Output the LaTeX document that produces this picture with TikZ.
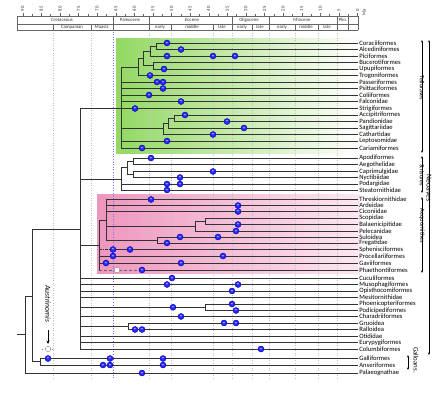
\documentclass[tikz,border=0pt]{standalone}
\usepackage{fontspec}
\setmainfont{Carlito}
\usetikzlibrary{arrows.meta}
\definecolor{grn}{RGB}{146,216,98}
\definecolor{pnk}{RGB}{238,150,190}
\definecolor{pnkr}{RGB}{252,232,242}
\definecolor{fosblue}{RGB}{40,40,255}
\begin{document}
\begin{tikzpicture}[x=1pt,y=-1pt,
  br/.style={draw=black!80, line width=0.95pt},
  tip/.style={anchor=west, inner xsep=1.2pt, inner ysep=0pt, font=\fontsize{6.6}{7}\selectfont},
  fos/.style={circle, draw=blue!60!black, fill=fosblue, inner sep=0pt, minimum size=6pt, line width=0.4pt,
    font=\fontsize{4.5}{4}\selectfont\bfseries, text=white!85!blue},
  ghost/.style={circle, draw=black!45, fill=white, inner sep=0pt, minimum size=5.5pt, line width=0.4pt},
  gridl/.style={draw=black!25, dotted, line width=0.5pt},
  ax/.style={draw=black!60, line width=0.4pt},
  axt/.style={font=\fontsize{4.8}{5}\selectfont, inner sep=0pt, text=black!80},
  clade/.style={font=\fontsize{6.2}{7}\selectfont, rotate=-90, inner sep=0.5pt},
  brk/.style={draw=black, line width=0.5pt, -{Stealth[length=2.5pt,width=2pt]}},
]
\useasboundingbox (0,0) rectangle (444,397);

% clade boxes
\shade[left color=grn, right color=white] (116,38) rectangle (360,153);
\shade[left color=pnk, right color=pnkr] (97,194) rectangle (360,273);

% grid
\foreach \x in {53,91,149,171,213,232,252,269,295,318,337}
  \draw[gridl] (\x,30) -- (\x,380);
\draw[dotted, draw=blue!55, line width=0.6pt] (113,16) -- (113,380);

% axis
\draw[ax] (17,16) -- (358,16);
\draw[ax] (17,24) -- (358,24);
\draw[ax] (17,30) -- (358,30);
\foreach \x in {17,113,149,232,269,337,348,358} \draw[ax] (\x,16) -- (\x,30);
\foreach \x in {53,91,171,213,252,295,318} \draw[ax] (\x,24) -- (\x,30);
\foreach \v in {0,5,...,90}{
  \pgfmathsetmacro\xx{357.5-3.72*\v}
  \draw[ax] (\xx,16) -- (\xx,12.5);
  \node[axt, rotate=90, anchor=west] (tl\v) at (\xx,11.5) {\v};
}
\foreach \v in {2.5,7.5,...,87.5}{
  \pgfmathsetmacro\xx{357.5-3.72*\v}
  \draw[ax] (\xx,16) -- (\xx,14.2);
}
\node[axt, rotate=90, anchor=west] (ma) at (364,16) {Ma};
\node[axt] (p1) at (62,20.2) {Cretaceous};
\node[axt] (p2) at (130,20.2) {Paleocene};
\node[axt] (p3) at (192,20.2) {Eocene};
\node[axt] (p4) at (249,20.2) {Oligocene};
\node[axt] (p5) at (302,20.2) {Miocene};
\node[axt] (p6) at (343,20.2) {Plio.};
\node[axt] (s1) at (72,27.2) {Campanian};
\node[axt] (s2) at (102,27.2) {Maastr.};
\node[axt] (s3) at (160,27.2) {early};
\node[axt] (s4) at (192,27.2) {middle};
\node[axt] (s5) at (222,27.2) {late};
\node[axt] (s6) at (242,27.2) {early};
\node[axt] (s7) at (260,27.2) {late};
\node[axt] (s8) at (282,27.2) {early};
\node[axt] (s9) at (306,27.2) {middle};
\node[axt] (s10) at (327,27.2) {late};

% tips
\foreach \n/\y/\t in {
 cor/43/Coraciiformes, alc/49.5/Alcediniformes, pic/56/Piciformes, buc/62.5/Bucerotiformes,
 upu/69/Upupiformes, tro/75.5/Trogoniformes, pas/82/Passeriformes, psi/88.5/Psittaciformes,
 col/95/Coliiformes, fal/101.5/Falconidae, str/108.5/Strigiformes, acc/115/Accipitriformes,
 pan/121.5/Pandionidae, sag/128/Sagittariidae, cat/134.5/Cathartidae, lep/141/Leptosomidae,
 car/148/Cariamiformes,
 apo/158/Apodiformes, aeg/164.5/Aegothelidae, cap/171.5/Caprimulgidae, nyc/177.5/Nyctibiidae,
 pod/184/Podargidae, ste/190/Steatornithidae,
 thr/199.5/Threskiornithidae, ard/205.5/Ardeidae, cic/211.5/Ciconiidae, sco/218/Scopidae,
 bal/224.5/Balaenicipitidae, pel/231/Pelecanidae, sul/237/Suloidea, fre/243/Fregatidae,
 sph/249.5/Sphenisciformes, pro/256/Procellariiformes, gav/263/Gaviiformes, pha/270/Phaethontiformes,
 cuc/278/Cuculiformes, mus/284.5/Musophagiformes, opi/291/Opisthocomiformes, mes/297.5/Mesitornithidae,
 pho/304/Phoenicopteriformes, pdc/310.5/Podicipediformes, cha/316.5/Charadriiformes,
 gru/323/Gruoidea, ral/329.5/Ralloidea, oti/336/Otididae, eur/342.5/Eurypygiformes,
 clb/349/Columbiformes, gal/358.5/Galliformes, ans/365/Anseriformes, pal/373/Palaeognathae}
 \node[tip] (\n) at (358,\y) {\t};

% internal nodes
\coordinate (T1) at (156,46.25);
\coordinate (T2) at (150,51.1);
\coordinate (T3) at (153,65.75);
\coordinate (T4) at (143,58.4);
\coordinate (T5) at (138,67);
\coordinate (A1) at (174,118.25);
\coordinate (A2) at (168,123.1);
\coordinate (A3) at (163,128.8);
\coordinate (TEL) at (121,108.5);
\coordinate (S1) at (133,161.25);
\coordinate (S2) at (133,174.5);
\coordinate (S3) at (127,167.9);
\coordinate (STR) at (121,179);
\coordinate (P1) at (205,221.25);
\coordinate (P2) at (195,226.1);
\coordinate (P3) at (157,240);
\coordinate (AQ1) at (106,220);
\coordinate (AQ) at (99,245);
\coordinate (MIR) at (205,307.25);
\coordinate (GRU) at (128,326.25);
\coordinate (NEO) at (80,229);
\coordinate (GAL) at (40,361.75);
\coordinate (NEOG) at (32,296);
\coordinate (ROOT) at (25,334.5);
\coordinate (rootstem) at (17,334.5);
\coordinate (sphg) at (110,249.5);
\coordinate (phag) at (139,270);

% Telluraves
\draw[br] (T1) |- (cor.west);  \draw[br] (T1) |- (alc.west);
\draw[br] (T2) |- (T1);        \draw[br] (T2) |- (pic.west);
\draw[br] (T3) |- (buc.west);  \draw[br] (T3) |- (upu.west);
\draw[br] (T4) |- (T2);        \draw[br] (T4) |- (T3);
\draw[br] (T5) |- (T4);        \draw[br] (T5) |- (tro.west);
\draw[br] (A1) |- (acc.west);  \draw[br] (A1) |- (pan.west);
\draw[br] (A2) |- (A1);        \draw[br] (A2) |- (sag.west);
\draw[br] (A3) |- (A2);        \draw[br] (A3) |- (cat.west);
\foreach \c in {T5,A3} \draw[br] (TEL) |- (\c);
\foreach \c in {pas,psi,col,fal,str,lep,car} \draw[br] (TEL) |- (\c.west);
% Strisores
\draw[br] (S1) |- (apo.west);  \draw[br] (S1) |- (aeg.west);
\draw[br] (S2) |- (cap.west);  \draw[br] (S2) |- (nyc.west);
\draw[br] (S3) |- (S1);        \draw[br] (S3) |- (S2);
\draw[br] (STR) |- (S3);
\draw[br] (STR) |- (pod.west); \draw[br] (STR) |- (ste.west);
% Aequornithes
\draw[br] (P1) |- (sco.west);  \draw[br] (P1) |- (bal.west);
\draw[br] (P2) |- (P1);        \draw[br] (P2) |- (pel.west);
\draw[br] (P3) |- (sul.west);  \draw[br] (P3) |- (fre.west);
\foreach \c in {thr,ard,cic} \draw[br] (AQ1) |- (\c.west);
\draw[br] (AQ1) |- (P2);       \draw[br] (AQ1) |- (P3);
\draw[br] (AQ) |- (AQ1);
\draw[br] (AQ |- AQ1) -- (AQ |- pha.west);
\draw[br] (AQ) |- (pro.west);  \draw[br] (AQ) |- (gav.west);
\draw[br, densely dash dot] (AQ |- sph.west) -- (sphg);
\draw[br] (sphg) -- (sph.west);
\draw[br, densely dashed, draw=black!60] (AQ |- pha.west) -- (phag);
\draw[br] (phag) -- (pha.west);
% rest of Neoaves
\draw[br] (MIR) |- (pho.west); \draw[br] (MIR) |- (pdc.west);
\draw[br] (GRU) |- (gru.west); \draw[br] (GRU) |- (ral.west);
\foreach \c in {TEL,STR,AQ,MIR,GRU} \draw[br] (NEO) |- (\c);
\foreach \c in {cuc,mus,opi,mes,cha,oti,eur,clb} \draw[br] (NEO) |- (\c.west);
% base
\draw[br] (GAL) |- (gal.west); \draw[br] (GAL) |- (ans.west);
\draw[br] (NEOG) |- (NEO);     \draw[br] (NEOG) |- (GAL);
\draw[br] (ROOT) |- (NEOG);    \draw[br] (ROOT) |- (pal.west);
\draw[br] (rootstem) -- (ROOT);

% fossil calibrations
\foreach \x/\y [count=\i] in {
 167/43, 181/49.5, 167/56, 213/56, 235/56, 164/69, 150/75.5, 157/82, 163/82, 163/88.5,
 149/95, 181/101.5, 135/108.5, 185/115, 227/121.5, 244/128, 213/134.5, 167/141, 142/148,
 151/158, 213/171.5, 180/177.5, 167/184, 180/184, 167/190,
 151/199.5, 238/205.5, 238/211.5, 238/224.5, 236/231, 180/237, 218/237, 167/243,
 113/249.5, 130/249.5, 113/256, 223/256, 106/263, 181/263, 142/270,
 172/278, 238/284.5, 167/284.5, 232/291, 173/307.25, 232/304, 236/310.5, 181/316.5,
 224/323, 236/323, 135/329.5, 142/329.5, 261/349,
 48/358.5, 110/358.5, 163/358.5, 103/365, 110/365, 163/365, 142/373}
 \node[fos] (f\i) at (\x,\y) {=};
\node[ghost] (g1) at (117,270) {};
\draw[black!50, dotted, line width=0.6pt] (42,349) -- (54,349);
\node[ghost] (g2) at (48,349) {};

% Austrinornis
\node[font=\fontsize{7.6}{8}\selectfont\itshape, rotate=-90] (aus) at (48,304) {Austrinornis};
\coordinate (ausa) at (48,330);
\coordinate (ausb) at (48,344);
\draw[line width=1pt, -{Stealth[length=3.5pt,width=3pt]}] (ausa) -- (ausb);

% clade brackets
\node[clade] (tel) at (422,88) {Telluraves};
\coordinate (tel1) at (422,40); \coordinate (tel2) at (422,153);
\draw[brk] (tel.east) -- (tel1);
\draw[brk] (tel.west) -- (tel2);
\node[clade] (stri) at (422,175) {Strisores};
\coordinate (st1) at (422,156); \coordinate (st2) at (422,193);
\draw[brk] (stri.east) -- (st1);
\draw[brk] (stri.west) -- (st2);
\node[clade] (aeq) at (422,226) {Aequornithes};
\coordinate (aq1) at (422,197); \coordinate (aq2) at (422,273);
\draw[brk] (aeq.east) -- (aq1);
\draw[brk] (aeq.west) -- (aq2);
\node[clade, font=\fontsize{7.6}{8}\selectfont] (neo) at (429,188) {Neoaves};
\coordinate (ne1) at (429,40); \coordinate (ne2) at (429,355);
\draw[brk] (neo.east) -- (ne1);
\draw[brk] (neo.west) -- (ne2);
\node[clade, font=\fontsize{6.8}{7}\selectfont] (gall) at (416,360) {Galloans.};
\coordinate (ga1) at (408,355); \coordinate (ga2) at (408,370);
\draw[brk, {Stealth[length=2.5pt,width=2pt]}-{Stealth[length=2.5pt,width=2pt]}] (ga1) -- (ga2);
\end{tikzpicture}
\end{document}
